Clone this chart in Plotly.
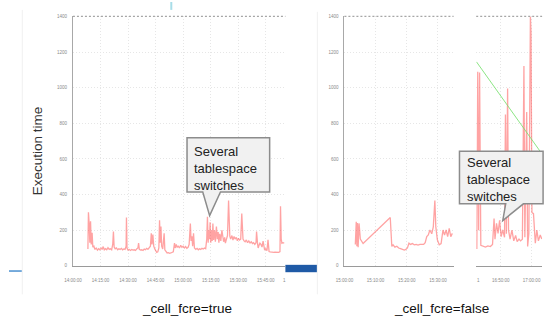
import pandas as pd
import plotly.graph_objects as go

# ---------------- data ----------------
# Left run (_cell_fcre=true): minutes after 14:00 and execution time
left_minutes = [
    8.15, 8.44, 8.82, 9.20, 9.59, 9.97, 10.45, 10.83, 11.41, 11.99, 12.66, 13.33, 14.00, 14.67,
    15.34, 15.92, 16.49, 17.07, 17.74, 18.41, 19.08, 19.75, 20.42, 21.09, 21.67, 22.05, 22.44,
    23.01, 23.68, 24.35, 25.02, 25.70, 26.37, 27.04, 27.71, 28.38, 28.96, 29.15, 29.44, 30.01,
    30.68, 31.35, 32.02, 32.70, 33.37, 34.04, 34.71, 35.38, 35.76, 36.15, 36.82, 37.49, 38.16,
    38.83, 39.50, 40.17, 40.84, 41.52, 42.19, 42.67, 43.05, 43.53, 44.01, 44.58, 45.06, 45.64,
    46.21, 46.79, 47.17, 47.56, 47.94, 48.32, 48.90, 49.67, 50.05, 50.62, 51.30, 51.97, 52.64,
    53.31, 53.98, 54.65, 55.32, 55.71, 56.28, 56.76, 57.34, 58.01, 58.68, 59.35, 60.02, 60.69,
    61.36, 62.03, 62.71, 63.28, 63.95, 64.34, 64.81, 65.20, 65.68, 66.16, 66.92, 67.60, 68.27,
    68.94, 69.61, 70.28, 70.95, 71.62, 72.29, 72.87, 73.25, 73.64, 74.02, 74.40, 74.69, 75.07,
    75.46, 75.84, 76.22, 76.61, 77.09, 77.57, 78.14, 78.62, 79.10, 79.48, 79.96, 80.54, 81.11,
    81.59, 82.07, 82.65, 83.03, 83.61, 84.18, 84.76, 85.14, 85.43, 85.91, 86.58, 87.15, 87.73,
    88.30, 88.98, 89.55, 90.13, 90.70, 91.37, 91.95, 92.33, 92.62, 93.20, 93.77, 94.44, 95.11,
    95.78, 96.46, 97.13, 97.80, 98.37, 99.04, 99.72, 100.00, 100.48, 100.87, 101.35, 101.82,
    102.40, 102.97, 103.55, 104.03, 104.41, 104.99, 105.66, 106.24, 106.52, 106.81, 107.39,
    108.06, 108.73, 109.40, 110.07, 110.74, 111.41, 112.08, 112.75, 113.04, 113.43, 113.81,
    114.38, 115.06,
]
left_values = [
    95, 300, 240, 130, 250, 120, 185, 105, 110, 92, 100, 88, 96, 90,
    100, 92, 108, 90, 96, 90, 102, 92, 96, 90, 120, 192, 105,
    95, 100, 90, 96, 92, 98, 90, 95, 92, 110, 271, 100, 88,
    92, 86, 92, 88, 90, 86, 94, 100, 127, 92, 88, 90, 86,
    94, 90, 98, 92, 100, 110, 182, 120, 175, 110, 95, 80, 75,
    78, 100, 256, 130, 220, 110, 95, 182, 90, 78, 72, 74, 70,
    72, 75, 78, 127, 100, 120, 105, 110, 100, 115, 104, 110, 100,
    108, 98, 104, 120, 238, 140, 166, 110, 182, 100, 92, 98, 90,
    96, 92, 98, 94, 100, 96, 150, 275, 130, 200, 150, 245, 130,
    200, 140, 238, 145, 200, 135, 221, 150, 190, 130, 180, 140, 200,
    150, 135, 160, 127, 150, 170, 367, 200, 166, 150, 170, 145, 165,
    150, 160, 140, 155, 145, 150, 293, 180, 150, 140, 135, 145, 130,
    140, 128, 135, 125, 130, 120, 130, 193, 130, 100, 115, 127,
    120, 105, 138, 110, 88, 95, 85, 146, 100, 80, 78,
    76, 78, 75, 77, 76, 78, 76, 80, 334, 150, 127,
    130, 128,
]

# Right run (_cell_fcre=false), first window: minutes after 15:00
right_a_minutes = [
    3.5, 3.8, 4.0, 4.2, 4.4, 4.7, 5.1, 5.7, 6.0, 14.7, 15.0, 15.2, 15.6, 16.2, 16.8, 17.4,
    18.0, 18.6, 19.2, 19.7, 20.2, 20.7, 21.2, 21.8, 22.4, 23.0, 23.6, 24.2, 24.8, 25.4,
    25.9, 26.4, 26.9, 27.4, 28.0, 28.5, 29.0, 29.3, 29.8, 30.4, 31.0, 31.6, 32.1, 32.6,
    33.1, 33.6, 34.1, 34.6,
]
right_a_values = [
    120, 247, 110, 240, 105, 238, 150, 128, 125, 271, 180, 109, 118, 105, 110, 100,
    96, 90, 88, 92, 100, 127, 120, 125, 118, 120, 116, 120, 122, 120,
    130, 164, 173, 201, 180, 219, 367, 220, 146, 118, 125, 201, 173, 201,
    164, 210, 164, 182,
]

# Right run, second window: minutes after 16:40
right_b_minutes = [
    2.2, 2.5, 2.8, 3.1, 3.5, 4.2, 5.0, 5.8, 6.6, 7.3, 7.8, 8.1, 8.6, 9.1, 9.6, 10.1, 10.6,
    11.2, 11.5, 11.8, 12.2, 12.5, 13.0, 13.6, 14.2, 14.8, 15.3, 15.9, 16.4, 17.0, 17.5,
    17.8, 18.4, 18.7, 19.1, 19.6, 19.8, 20.1, 20.6, 21.2, 21.7, 22.2, 22.8, 23.3,
]
right_b_values = [
    95, 1090, 200, 1085, 115, 110, 105, 112, 108, 120, 265, 150, 238, 182, 256, 164, 201,
    160, 850, 180, 995, 200, 150, 200, 140, 170, 136, 150, 140, 150, 1122,
    160, 863, 109, 182, 1400, 1307, 300, 293, 127, 201, 140, 173, 150,
]

# Trend line drawn over the second window
trend_minutes = [2.1, 22.8]
trend_values = [1145, 642]

y_ticks = [0, 200, 400, 600, 800, 1000, 1200, 1400]
left_tick_times = ["14:00:00", "14:15:00", "14:30:00", "14:45:00",
                   "15:00:00", "15:15:00", "15:30:00", "15:45:00"]
right_a_tick_times = ["15:00:00", "15:10:00", "15:20:00", "15:30:00"]
right_b_tick_times = ["16:50:00", "17:00:00"]

DAY = "2011-03-14 "

# ---------------- helpers ----------------
W, H = 548, 320


def fx(p):
    return p / W


def fy(p):
    return 1 - p / H


def stamps(base, minutes):
    return pd.Timestamp(DAY + base) + pd.to_timedelta(minutes, unit="min")


RED = "rgba(255,50,50,0.45)"
GRID = "#e6e6e6"
TICKFONT = dict(family="Liberation Sans, Arial, sans-serif", size=4.5, color="#8a8a8a")
TEXTFONT = "Liberation Sans, Arial, sans-serif"

fig = go.Figure()

fig.add_trace(go.Scatter(x=stamps("14:00", left_minutes), y=left_values, mode="lines",
                         line=dict(color=RED, width=1.3), xaxis="x", yaxis="y",
                         showlegend=False))
fig.add_trace(go.Scatter(x=stamps("15:00", right_a_minutes), y=right_a_values, mode="lines",
                         line=dict(color=RED, width=1.3), xaxis="x2", yaxis="y2",
                         showlegend=False))
fig.add_trace(go.Scatter(x=stamps("16:40", right_b_minutes), y=right_b_values, mode="lines",
                         line=dict(color=RED, width=1.3), xaxis="x3", yaxis="y3",
                         showlegend=False))
fig.add_trace(go.Scatter(x=stamps("16:40", trend_minutes), y=trend_values, mode="lines",
                         line=dict(color="rgba(120,225,110,0.85)", width=1),
                         xaxis="x3", yaxis="y3", showlegend=False))

y_dom = [fy(268), fy(14.7)]


def xaxis(dom, rng, ticks, anchor):
    vals = [DAY + t for t in ticks]
    return dict(domain=dom, range=rng, type="date", anchor=anchor,
                tickvals=vals, ticktext=ticks, tickfont=TICKFONT,
                showgrid=True, gridcolor=GRID, griddash="1px,2px", gridwidth=1,
                showline=True, linecolor="#9a9a9a", linewidth=1,
                ticks="", ticklabelstandoff=10, zeroline=False, fixedrange=True)


def yaxis(anchor, labels=True, line=True):
    return dict(domain=y_dom, range=[0, 1400], anchor=anchor,
                tickvals=y_ticks, ticktext=[str(v) for v in y_ticks],
                showticklabels=labels, tickfont=TICKFONT,
                showgrid=True, gridcolor=GRID, griddash="1px,2px", gridwidth=1,
                showline=line, linecolor="#a8a8a8", linewidth=1,
                ticks="", ticklabelstandoff=4, zeroline=False, fixedrange=True)


fig.update_layout(
    width=W, height=H, margin=dict(l=0, r=0, t=0, b=0),
    paper_bgcolor="white", plot_bgcolor="white", showlegend=False,
    xaxis=xaxis([fx(65), fx(281)], [DAY + "14:00:00", DAY + "15:55:42"], left_tick_times, "y"),
    xaxis2=xaxis([fx(341), fx(452)], [DAY + "15:00:00", DAY + "15:35:00"], right_a_tick_times, "y2"),
    xaxis3=xaxis([fx(475), fx(542)], [DAY + "16:42:00", DAY + "17:03:24"], right_b_tick_times, "y3"),
    yaxis=yaxis("x"), yaxis2=yaxis("x2"), yaxis3=yaxis("x3", labels=False, line=False),
)

shapes = []
# dotted top borders of each plot area
for a, b in [(65, 281), (341, 452), (475, 542)]:
    shapes.append(dict(type="line", xref="paper", yref="paper", x0=fx(a), x1=fx(b),
                       y0=fy(14.7), y1=fy(14.7), line=dict(color="#a6a6a6", width=1.2, dash="2px,2px")))
# faint frame lines of the left picture
shapes.append(dict(type="line", xref="paper", yref="paper", x0=fx(13.5), x1=fx(13.5),
                   y0=fy(8), y1=fy(297), line=dict(color="#f0f0f0", width=1)))
shapes.append(dict(type="line", xref="paper", yref="paper", x0=fx(313.5), x1=fx(313.5),
                   y0=fy(10), y1=fy(297), line=dict(color="#f0f0f0", width=1)))
# slide decorations
shapes.append(dict(type="line", xref="paper", yref="paper", x0=fx(165), x1=fx(165),
                   y0=fy(0), y1=fy(8), line=dict(color="#a8dde8", width=2)))
shapes.append(dict(type="line", xref="paper", yref="paper", x0=fx(0), x1=fx(13),
                   y0=fy(273.3), y1=fy(273.3), line=dict(color="#4a90d0", width=1.5)))
shapes.append(dict(type="rect", xref="paper", yref="paper", x0=fx(281), x1=fx(313),
                   y0=fy(274.5), y1=fy(267), fillcolor="#1f5aa6", line=dict(width=0)))


def bubble(pts):
    path = "M " + " L ".join(f"{fx(x):.5f},{fy(y):.5f}" for x, y in pts) + " Z"
    return dict(type="path", xref="paper", yref="paper", path=path,
                fillcolor="#f1f1f1", line=dict(color="#8c8c8c", width=1.5), layer="above")


shapes.append(bubble([(181, 138), (265, 138), (265, 193), (215, 193), (204, 217),
                      (197, 193), (181, 193)]))
shapes.append(bubble([(458, 151.5), (543, 151.5), (543, 205), (523, 205), (502, 222),
                      (505, 205), (458, 205)]))
fig.update_layout(shapes=shapes)

ann = []
callout = "Several<br>tablespace<br>switches"
ann.append(dict(xref="paper", yref="paper", x=fx(186), y=fy(142.5), text=callout,
                xanchor="left", yanchor="top", align="left", showarrow=False,
                font=dict(family=TEXTFONT, size=13, color="#222")))
ann.append(dict(xref="paper", yref="paper", x=fx(464), y=fy(153.5), text=callout,
                xanchor="left", yanchor="top", align="left", showarrow=False,
                font=dict(family=TEXTFONT, size=13, color="#222")))
ann.append(dict(xref="paper", yref="paper", x=fx(29), y=fy(151), text="Execution time",
                textangle=-90, showarrow=False, xanchor="center", yanchor="middle",
                font=dict(family=TEXTFONT, size=13.5, color="#333")))
ann.append(dict(xref="paper", yref="paper", x=fx(181), y=fy(311), text="_cell_fcre=true",
                showarrow=False, xanchor="center", yanchor="middle",
                font=dict(family=TEXTFONT, size=13.5, color="#111")))
ann.append(dict(xref="paper", yref="paper", x=fx(440), y=fy(311), text="_cell_fcre=false",
                showarrow=False, xanchor="center", yanchor="middle",
                font=dict(family=TEXTFONT, size=13.5, color="#111")))
# clipped tick-label fragments at the picture edges
for px_ in (280, 477):
    ann.append(dict(xref="paper", yref="paper", x=fx(px_), y=fy(283), text="1",
                    showarrow=False, xanchor="center", yanchor="middle",
                    font=TICKFONT))
fig.update_layout(annotations=ann)

fig.write_html("out.html")
